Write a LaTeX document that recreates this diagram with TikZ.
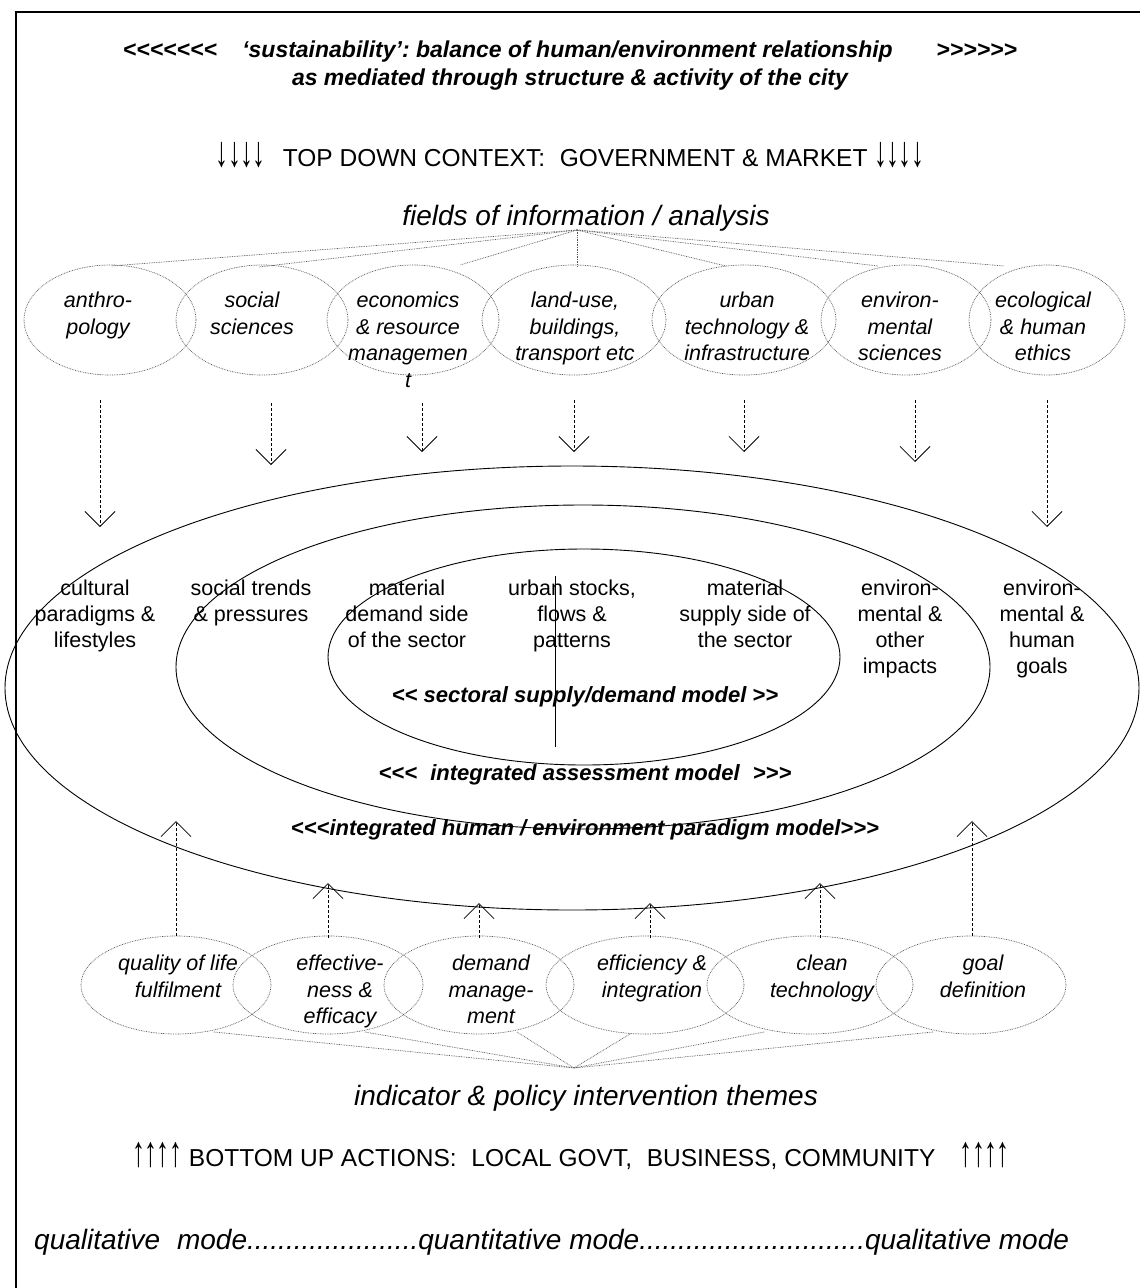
\documentclass[tikz,border=0pt]{standalone}
\usepackage{fontspec}
\setmainfont{Liberation Sans}
\usetikzlibrary{arrows.meta,shapes.geometric}
\frenchspacing
\newcommand\lsym{<\kern0pt}
\newcommand\gsym{>\kern0pt}
\newcommand\darrs{\scalebox{1.05}[1.75]{↓}\kern-0.5pt\scalebox{1.05}[1.75]{↓}\kern-0.5pt\scalebox{1.05}[1.75]{↓}\kern-0.5pt\scalebox{1.05}[1.75]{↓}}
\newcommand\uarrs{\scalebox{1.05}[1.75]{↑}\kern-0.5pt\scalebox{1.05}[1.75]{↑}\kern-0.5pt\scalebox{1.05}[1.75]{↑}\kern-0.5pt\scalebox{1.05}[1.75]{↑}}
\begin{document}
\begin{tikzpicture}[x=1pt,y=-1pt,
  dotell/.style={ellipse,draw=black!65,line width=0.7pt,dash pattern=on 0.8pt off 0.9pt,inner sep=0pt,outer sep=0pt,minimum height=110},
  ring/.style={ellipse,draw=black,line width=0.9pt,inner sep=0pt,outer sep=0pt},
  fanline/.style={draw=black!65,line width=0.7pt,dash pattern=on 0.8pt off 0.9pt},
  dasharrow/.style={draw=black,line width=0.7pt,dash pattern=on 3pt off 2pt,-{Straight Barb[length=15pt,width=30pt,line width=0.8pt]}},
  itxt/.style={font=\fontsize{21.5}{26.5}\selectfont\itshape,align=center,inner sep=0pt,anchor=north},
  rtxt/.style={font=\fontsize{21.5}{26}\selectfont,align=center,inner sep=0pt,anchor=north},
  bitxt/.style={font=\fontsize{22}{28}\selectfont\bfseries\itshape,inner sep=0pt},
  titletxt/.style={font=\fontsize{23}{28}\selectfont\bfseries\itshape,inner sep=0pt},
  bigtxt/.style={font=\fontsize{28}{32}\selectfont\itshape,inner sep=0pt},
  captxt/.style={font=\fontsize{24.5}{28}\selectfont,inner sep=0pt}
]
\useasboundingbox (0,0) rectangle (1140,1288);
% frame
\draw[line width=2pt] (16,1300) -- (16,12) -- (1150,12);

% title
\node[titletxt] (title1) at (570,52) {\lsym\lsym\lsym\lsym\lsym\lsym\lsym\hspace{1.1em}‘sustainability’: balance of human/environment relationship\hspace{1.9em}\gsym\gsym\gsym\gsym\gsym\gsym};
\node[titletxt] (title2) at (570,80) {as mediated through structure \& activity of the city};

\node[captxt] (topdown) at (570,155) {\darrs\hspace{0.7em}TOP DOWN CONTEXT:\hspace{0.6em}GOVERNMENT \& MARKET \darrs};
\node[bigtxt] (fields) at (586,218) {fields of information / analysis};

% top ellipses
\node[dotell,minimum width=172] (t1) at (110,320) {};
\node[dotell,minimum width=172] (t2) at (262,320) {};
\node[dotell,minimum width=172] (t3) at (413,320) {};
\node[dotell,minimum width=184] (t4) at (574,320) {};
\node[dotell,minimum width=184] (t5) at (744,320) {};
\node[dotell,minimum width=170] (t6) at (906,320) {};
\node[dotell,minimum width=156] (t7) at (1047,320) {};

\node[itxt] (tt1) at (98,292) {anthro-\\pology};
\node[itxt] (tt2) at (252,292) {social\\sciences};
\node[itxt] (tt3) at (408,292) {economics\\\& resource\\managemen\\t};
\node[itxt] (tt4) at (575,292) {land-use,\\buildings,\\transport etc};
\node[itxt] (tt5) at (747,292) {urban\\technology \&\\infrastructure};
\node[itxt] (tt6) at (900,292) {environ-\\mental\\sciences};
\node[itxt] (tt7) at (1043,292) {ecological\\\& human\\ethics};

% fan from title
\coordinate (apex) at (577,230);
\coordinate (f1) at (111,266);
\coordinate (f2) at (259,267);
\coordinate (f3) at (460,265);
\coordinate (f4) at (577,266);
\coordinate (f5) at (726,266);
\coordinate (f6) at (878,266);
\coordinate (f7) at (1004,266);
\foreach \i in {1,...,7} \draw[fanline] (apex) -- (f\i);

% down arrows
\coordinate (d1s) at (100,400); \coordinate (d1e) at (100,527);
\coordinate (d2s) at (271,403); \coordinate (d2e) at (271,465);
\coordinate (d3s) at (422,403); \coordinate (d3e) at (422,452);
\coordinate (d4s) at (574,400); \coordinate (d4e) at (574,452);
\coordinate (d5s) at (744,400); \coordinate (d5e) at (744,452);
\coordinate (d6s) at (915,400); \coordinate (d6e) at (915,462);
\coordinate (d7s) at (1047,400); \coordinate (d7e) at (1047,527);
\foreach \i in {1,...,7} \draw[dasharrow] (d\i s) -- (d\i e);

% rings
\node[ring,minimum width=1134,minimum height=444] (outer) at (572,688) {};
\node[ring,minimum width=814,minimum height=324] (middle) at (583,667) {};
\node[ring,minimum width=512,minimum height=216] (inner) at (584,657) {};
\coordinate (vtop) at (555,576);
\coordinate (vbot) at (555,747);
\draw[line width=0.9pt] (vtop) -- (vbot);

% ring texts
\node[rtxt] (r1) at (95,580) {cultural\\paradigms \&\\lifestyles};
\node[rtxt] (r2) at (251,580) {social trends\\\& pressures};
\node[rtxt] (r3) at (407,580) {material\\demand side\\of the sector};
\node[rtxt] (r4) at (572,580) {urban stocks,\\flows \&\\patterns};
\node[rtxt] (r5) at (745,580) {material\\supply side of\\the sector};
\node[rtxt] (r6) at (900,580) {environ-\\mental \&\\other\\impacts};
\node[rtxt] (r7) at (1042,580) {environ-\\mental \&\\human\\goals};

\node[bitxt] (m1) at (585,697) {\lsym\lsym{} sectoral supply/demand model \gsym\gsym};
\node[bitxt] (m2) at (585,775) {\lsym\lsym\lsym\hspace{0.6em}integrated assessment model\hspace{0.6em}\gsym\gsym\gsym};
\node[bitxt] (m3) at (585,830) {\lsym\lsym\lsym integrated human / environment paradigm model\gsym\gsym\gsym};

% bottom ellipses
\node[dotell,minimum width=190,minimum height=98] (b1) at (176,985) {};
\node[dotell,minimum width=190,minimum height=98] (b2) at (328,985) {};
\node[dotell,minimum width=190,minimum height=98] (b3) at (479,985) {};
\node[dotell,minimum width=198,minimum height=98] (b4) at (645,985) {};
\node[dotell,minimum width=206,minimum height=98] (b5) at (810,985) {};
\node[dotell,minimum width=190,minimum height=98] (b6) at (971,985) {};

\node[itxt] (bt1) at (178,955) {quality of life\\fulfilment};
\node[itxt] (bt2) at (340,955) {effective-\\ness \&\\efficacy};
\node[itxt] (bt3) at (491,955) {demand\\manage-\\ment};
\node[itxt] (bt4) at (652,955) {efficiency \&\\integration};
\node[itxt] (bt5) at (822,955) {clean\\technology};
\node[itxt] (bt6) at (983,955) {goal\\definition};

% up arrows
\coordinate (u1s) at (176,936); \coordinate (u1e) at (176,821);
\coordinate (u2s) at (328,938); \coordinate (u2e) at (328,883);
\coordinate (u3s) at (479,938); \coordinate (u3e) at (479,903);
\coordinate (u4s) at (650,938); \coordinate (u4e) at (650,903);
\coordinate (u5s) at (820,938); \coordinate (u5e) at (820,883);
\coordinate (u6s) at (972,936); \coordinate (u6e) at (972,821);
\foreach \i in {1,...,6} \draw[dasharrow] (u\i s) -- (u\i e);

% bottom fan
\coordinate (bapex) at (574,1068);
\coordinate (g1) at (214,1032);
\coordinate (g2) at (365,1032);
\coordinate (g3) at (517,1032);
\coordinate (g4) at (630,1034);
\coordinate (g5) at (764,1032);
\coordinate (g6) at (933,1032);
\foreach \i in {1,...,6} \draw[fanline] (g\i) -- (bapex);

\node[bigtxt] (themes) at (586,1098) {indicator \& policy intervention themes};
\node[captxt] (bottomup) at (571,1156) {\uarrs\ BOTTOM UP ACTIONS:\hspace{0.6em}LOCAL GOVT,\hspace{0.6em}BUSINESS, COMMUNITY\hspace{1em}\uarrs};
\node[bigtxt,anchor=west] (modes) at (34,1242) {qualitative\hspace{0.6em}mode......................quantitative mode.............................qualitative mode};
\end{tikzpicture}
\end{document}
